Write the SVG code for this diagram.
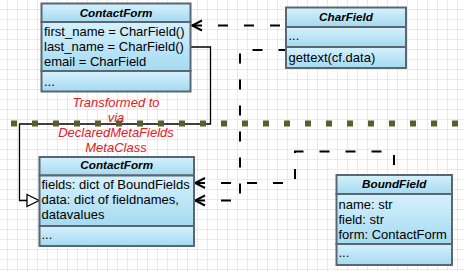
<svg xmlns="http://www.w3.org/2000/svg" width="464" height="271" viewBox="0 0 464 271">
<style>
.sec{fill:url(#blue);stroke:#5b6770;stroke-width:2}
.t{font-family:"Liberation Sans",Arial,sans-serif;font-size:13px;fill:#000}
.h{font-family:"Liberation Sans",Arial,sans-serif;font-size:11.7px;font-weight:bold;font-style:italic;fill:#000;text-anchor:middle}
.red{font-family:"Liberation Sans",Arial,sans-serif;font-size:13px;font-style:italic;fill:#e0201e;text-anchor:middle}
.dash{fill:none;stroke:#000;stroke-width:2;stroke-dasharray:10 16;marker-start:url(#open)}
.solid{fill:none;stroke:#000;stroke-width:1.3}
</style>
<defs>
<linearGradient id="blue" x1="0" y1="0" x2="0" y2="1">
<stop offset="0" stop-color="#d6f1fd"/>
<stop offset="1" stop-color="#a4daf1"/>
</linearGradient>
<pattern id="grid" x="7" y="9" width="10" height="10" patternUnits="userSpaceOnUse">
<path d="M0,0 H10 M0,0 V10" fill="none" stroke="#d6d6d6" stroke-width="1"/>
</pattern>
<marker id="open" viewBox="-12 -7 14 14" refX="0" refY="0" markerWidth="14" markerHeight="14" markerUnits="userSpaceOnUse" orient="auto-start-reverse">
<path d="M-10,-5 L0,0 L-10,5" fill="none" stroke="#000" stroke-width="2" stroke-dasharray="none"/>
</marker>
</defs>
<rect width="464" height="271" fill="#ffffff"/>
<rect width="464" height="271" fill="url(#grid)"/>

<g id="connectors">
<polyline class="solid" points="191,47 210.5,47 210.5,124 19.5,124 19.5,200.5 27,200.5"/>
<polygon points="27,194.5 39,200.5 27,206.5" fill="#fff" stroke="#000" stroke-width="1.3"/>
<polyline class="dash" points="192,25.5 286,25.5"/>
<polyline class="dash" points="195,200.5 240,200.5 240,50 286,50"/>
<polyline class="dash" points="195,183 295,183 295,151.5 394,151.5 394,175"/>
</g>

<line x1="11" y1="123.5" x2="464" y2="123.5" stroke="#5c5c2e" stroke-width="6" stroke-dasharray="6 15"/>

<g id="label">
<text class="red" x="116" y="106.5">Transformed to</text>
<text class="red" x="116" y="121.5">via</text>
<text class="red" x="116" y="137">DeclaredMetaFields</text>
<text class="red" x="116" y="152">MetaClass</text>
</g>

<g id="contactform-top">
<rect class="sec" x="41.5" y="3.5" width="149" height="18.5"/>
<rect class="sec" x="41.5" y="22" width="149" height="49"/>
<rect class="sec" x="41.5" y="71" width="149" height="20.5"/>
<text class="h" x="116" y="16.5">ContactForm</text>
<text class="t" x="44" y="35.5">first_name = CharField()</text>
<text class="t" x="44" y="50.5">last_name = CharField()</text>
<text class="t" x="44" y="65.5">email = CharField</text>
<text class="t" x="44" y="86">...</text>
</g>

<g id="charfield">
<rect class="sec" x="286" y="7.5" width="120" height="19.5"/>
<rect class="sec" x="286" y="27" width="120" height="20"/>
<rect class="sec" x="286" y="47" width="120" height="21"/>
<text class="h" x="346" y="20.5">CharField</text>
<text class="t" x="288.5" y="40">...</text>
<text class="t" x="288.5" y="62">gettext(cf.data)</text>
</g>

<g id="contactform-bottom">
<rect class="sec" x="39.5" y="157" width="154.5" height="18.5"/>
<rect class="sec" x="39.5" y="175.5" width="154.5" height="50.5"/>
<rect class="sec" x="39.5" y="226" width="154.5" height="20"/>
<text class="h" x="116.7" y="169">ContactForm</text>
<text class="t" x="41.5" y="188.5">fields: dict of BoundFields</text>
<text class="t" x="41.5" y="204">data: dict of fieldnames,</text>
<text class="t" x="41.5" y="218.5">datavalues</text>
<text class="t" x="41.5" y="239">...</text>
</g>

<g id="boundfield">
<rect class="sec" x="336.5" y="175" width="115.5" height="19"/>
<rect class="sec" x="336.5" y="194" width="115.5" height="50"/>
<rect class="sec" x="336.5" y="244" width="115.5" height="21"/>
<text class="h" x="394.2" y="187.5">BoundField</text>
<text class="t" x="338.5" y="208.5">name: str</text>
<text class="t" x="338.5" y="223.5">field: str</text>
<text class="t" x="338.5" y="238.5">form: ContactForm</text>
<text class="t" x="338.5" y="257">...</text>
</g>
</svg>
